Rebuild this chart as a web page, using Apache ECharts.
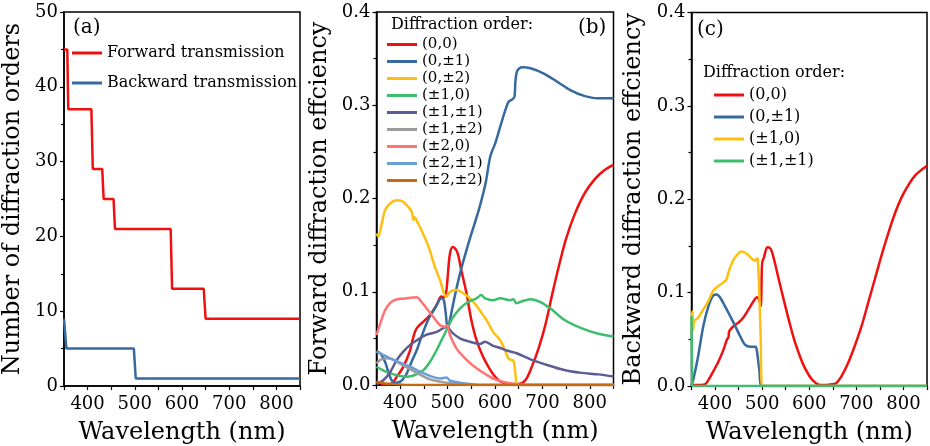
<!DOCTYPE html>
<html>
<head>
<meta charset="utf-8">
<script src="https://cdn.jsdelivr.net/npm/echarts@6/dist/echarts.min.js"></script>
<style>html,body{margin:0;padding:0;background:#fff;}#chart{width:930px;height:446px;}</style>
</head>
<body>
<div id="chart"></div>
<script>
// ---------- data ----------
const xTicks = [400, 500, 600, 700, 800];
// panel (a): number of diffraction orders
const aForward = [[350,45],[357,45],[359,37],[408,37],[411,29],[431,29],[434,25],[455,25],[458,21],[576,21],[579,13],[646,13],[650,9],[850,9]];
const aBackward = [[350,9],[352,9],[355,5],[498,5],[502,1],[850,1]];

// panel (b): forward diffraction efficiency
const b00 = [[350,0.004],[358,0.002],[365,0.0005],[380,0.001],[393,0.009],[407,0.02],[421,0.0375],[428,0.052],[435,0.061],[449,0.068],[463,0.075],[477,0.086],[487,0.095],[492,0.094],[497,0.1],[500,0.115],[505,0.141],[511,0.148],[520,0.143],[529,0.123],[540,0.098],[550,0.07],[561,0.048],[575,0.03],[589,0.017],[600,0.009],[611,0.004],[632,0.001],[650,0.001],[664,0.005],[678,0.02],[693,0.041],[707,0.066],[721,0.098],[736,0.13],[750,0.157],[768,0.183],[789,0.2055],[811,0.221],[830,0.23],[850,0.236]];
const b01 = [[350,0.036],[358,0.034],[368,0.025],[375,0.014],[382,0.005],[389,0.0025],[400,0.0036],[410,0.009],[417,0.016],[424,0.025],[435,0.0375],[445,0.052],[459,0.07],[473,0.082],[487,0.093],[492,0.091],[496,0.077],[500,0.061],[505,0.07],[515,0.095],[529,0.125],[547,0.157],[566,0.188],[580,0.216],[590,0.245],[601,0.26],[611,0.277],[622,0.295],[629,0.304],[636,0.306],[641,0.309],[643,0.325],[647,0.337],[657,0.3407],[675,0.3396],[703,0.334],[732,0.325],[760,0.316],[788,0.31],[816,0.3074],[850,0.3074]];
const b02 = [[350,0.1625],[354,0.159],[361,0.173],[368,0.1875],[379,0.195],[393,0.198],[403,0.1975],[414,0.193],[424,0.186],[428,0.177],[431,0.18],[435,0.176],[445,0.166],[460,0.148],[473,0.127],[484,0.1125],[494,0.096],[498,0.095],[505,0.1],[519,0.102],[540,0.096],[556,0.088],[568,0.08],[582,0.0697],[596,0.057],[611,0.048],[621,0.0375],[628,0.0286],[633,0.027],[639,0.026],[643,0.0125],[648,0],[850,0]];
const b10 = [[350,0.0196],[365,0.0154],[379,0.0125],[400,0.0096],[414,0.0089],[431,0.0107],[449,0.016],[463,0.025],[477,0.0375],[491,0.052],[501,0.0625],[512,0.073],[526,0.082],[543,0.089],[561,0.093],[571,0.0964],[579,0.093],[596,0.091],[611,0.093],[632,0.091],[639,0.092],[645,0.0876],[653,0.089],[675,0.092],[696,0.089],[717,0.082],[746,0.07],[782,0.061],[818,0.055],[850,0.052]];
const b11 = [[350,0.001],[365,0.0054],[379,0.014],[393,0.027],[407,0.036],[421,0.043],[435,0.048],[456,0.054],[477,0.057],[491,0.061],[499,0.0625],[508,0.057],[526,0.05],[547,0.0464],[568,0.044],[579,0.0464],[596,0.042],[610,0.04],[625,0.037],[646,0.034],[675,0.0275],[710,0.0214],[746,0.016],[782,0.013],[818,0.0114],[850,0.009]];
const b12 = [[350,0.023],[358,0.027],[372,0.0286],[386,0.027],[400,0.023],[421,0.017],[442,0.011],[463,0.006],[484,0.0036],[505,0.0018],[533,0.0007],[561,0],[850,0]];
const b20 = [[350,0.0536],[358,0.066],[368,0.08],[379,0.088],[393,0.092],[407,0.0925],[421,0.0936],[435,0.094],[445,0.089],[456,0.082],[470,0.073],[484,0.064],[494,0.0625],[499,0.064],[505,0.0536],[519,0.039],[540,0.027],[561,0.018],[582,0.011],[600,0.006],[620,0.003],[640,0.001],[650,0],[850,0]];
const b21 = [[350,0.0357],[365,0.032],[379,0.0286],[400,0.024],[421,0.0196],[442,0.0143],[463,0.0096],[484,0.007],[498,0.008],[505,0.0046],[526,0.0025],[547,0.001],[568,0],[850,0]];
const b22 = [[350,0.0036],[365,0.0018],[393,0.0007],[420,0],[850,0]];

// panel (c): backward diffraction efficiency
const c00 = [[350,0.001],[357,0.001],[379,0.002],[386,0.0065],[396,0.0155],[407,0.026],[418,0.039],[425,0.0496],[428.5,0.0525],[430,0.0586],[439,0.064],[450,0.068],[461,0.074],[471,0.082],[482,0.091],[489,0.095],[493,0.093],[497,0.0856],[500,0.132],[504,0.138],[511,0.1486],[518,0.147],[525,0.136],[536,0.1126],[546,0.092],[557,0.07],[568,0.0496],[579,0.0335],[589,0.021],[600,0.011],[607,0.0064],[618,0.0018],[632,0.001],[646,0.0018],[657,0.003],[668,0.01],[682,0.024],[696,0.042],[711,0.064],[725,0.089],[739,0.114],[753,0.139],[768,0.164],[782,0.185],[796,0.202],[811,0.2157],[825,0.2256],[839,0.2318],[850,0.236]];
const c01 = [[350,0.001],[353.6,0.0065],[364,0.0317],[375,0.064],[386,0.0856],[396,0.097],[403.6,0.098],[411,0.0946],[421,0.0856],[432,0.075],[443,0.064],[453.6,0.053],[464,0.044],[475,0.042],[486,0.042],[489,0.037],[494,0.017],[500,0],[850,0]];
const c10 = [[350,0.073],[352,0.08],[353.5,0.06],[356,0.07],[364,0.073],[375,0.082],[386,0.091],[396,0.102],[407,0.107],[418,0.111],[425,0.115],[428.5,0.1216],[436,0.132],[446,0.14],[457,0.144],[468,0.1414],[478.6,0.136],[486,0.1342],[489,0.1367],[491,0.134],[494,0.1],[497,0.05],[500,0],[850,0]];
const c11 = [[350,0.075],[351.5,0],[850,0]];

// ---------- style ----------
const FONT = '"DejaVu Serif", "Liberation Serif", serif';
const C = {
  red:'#f01010', blue:'#35699f', yellow:'#fcc012', green:'#3cbe6c', purple:'#5c5c95',
  gray:'#9c9c9c', pink:'#ff7373', lblue:'#6a9fd5', orange:'#c8680f'
};

function xAxis(gi){
  return {
    type:'value', gridIndex:gi, min:350, max:850, interval:50,
    name:'Wavelength (nm)', nameLocation:'middle', nameGap:35,
    nameTextStyle:{fontFamily:FONT, fontSize:24, color:'#000'},
    axisLine:{show:true, lineStyle:{color:'#000', width:1.5}},
    axisTick:{show:true, length:4, lineStyle:{color:'#000', width:1.2}},
    axisLabel:{fontFamily:FONT, fontSize:18, color:'#000', margin:9,
      formatter:function(v){ return xTicks.indexOf(v) >= 0 ? String(v) : ''; }},
    splitLine:{show:false}
  };
}
function yAxis(gi, name, max, interval, gap, dec){
  return {
    type:'value', gridIndex:gi, min:0, max:max, interval:interval,
    name:name, nameLocation:'middle', nameGap:gap,
    nameTextStyle:{fontFamily:FONT, fontSize:24, color:'#000'},
    axisLine:{show:true, lineStyle:{color:'#000', width:1.5}},
    axisTick:{show:true, length:4, lineStyle:{color:'#000', width:1.2}},
    minorTick:{show:true, splitNumber:2, length:3, lineStyle:{color:'#000', width:1.2}},
    axisLabel:{fontFamily:FONT, fontSize:18, color:'#000', margin:6,
      formatter:function(v){ return dec ? v.toFixed(1) : String(v); }},
    splitLine:{show:false}
  };
}
function line(name, data, color, gi, smooth){
  return {
    type:'line', name:name, data:data, xAxisIndex:gi, yAxisIndex:gi,
    showSymbol:false, symbol:'none', smooth:smooth, animation:false,
    lineStyle:{color:color, width:2.5}, itemStyle:{color:color}
  };
}
function legend(left, top, gap, lh, fs, items){
  return {
    orient:'vertical', left:left, top:top, itemWidth:30, itemHeight:3, itemGap:gap,
    icon:'rect', selectedMode:false, padding:0,
    textStyle:{fontFamily:FONT, fontSize:fs, lineHeight:lh, color:'#000'},
    data:items.map(function(it){ return {name:it[0], itemStyle:{color:it[1]}}; })
  };
}
function txt(x, y, s, fs){
  return {type:'text', x:x, y:y, silent:true,
    style:{text:s, font:fs+'px '+FONT, fill:'#000', verticalAlign:'middle', align:'left'}};
}
function grid(l, t, w, h){
  return {left:l, top:t, width:w, height:h, show:true, borderColor:'#000', borderWidth:1.5,
    backgroundColor:'transparent', containLabel:false, outerBoundsMode:'none'};
}

const option = {
  animation:false,
  backgroundColor:'#fff',
  grid:[
    grid(64, 12, 236, 374),
    grid(376.5, 12, 237, 373),
    grid(691.5, 12.5, 235.5, 373.5)
  ],
  xAxis:[xAxis(0), xAxis(1), xAxis(2)],
  yAxis:[
    yAxis(0, 'Number of diffraction orders', 50, 10, 39, false),
    yAxis(1, 'Forward diffraction effciency', 0.4, 0.1, 45, true),
    yAxis(2, 'Backward diffraction effciency', 0.4, 0.1, 46, true)
  ],
  legend:[
    legend(72, 44, 12, 18, 16, [['Forward transmission', C.red], ['Backward transmission', C.blue]]),
    legend(387, 36, 0, 17, 15, [['(0,0)',C.red],['(0,±1)',C.blue],['(0,±2)',C.yellow],['(±1,0)',C.green],['(±1,±1)',C.purple],['(±1,±2)',C.gray],['(±2,0)',C.pink],['(±2,±1)',C.lblue],['(±2,±2)',C.orange]]),
    legend(714, 86, 4, 18, 16, [['(0,0)',C.red],['(0,±1)',C.blue],['(±1,0)',C.yellow],['(±1,±1)',C.green]])
  ],
  graphic:[
    txt(73, 28, '(a)', 20),
    txt(578, 28, '(b)', 20),
    txt(697, 30, '(c)', 20),
    txt(391, 25, 'Diffraction order:', 16),
    txt(703, 73, 'Diffraction order:', 16)
  ],
  series:[
    line('Forward transmission', aForward, C.red, 0, false),
    line('Backward transmission', aBackward, C.blue, 0, false),
    line('(0,0)', b00, C.red, 1, 0.35),
    line('(0,±1)', b01, C.blue, 1, 0.3),
    line('(0,±2)', b02, C.yellow, 1, 0.25),
    line('(±1,0)', b10, C.green, 1, 0.3),
    line('(±1,±1)', b11, C.purple, 1, 0.3),
    line('(±1,±2)', b12, C.gray, 1, 0.3),
    line('(±2,0)', b20, C.pink, 1, 0.3),
    line('(±2,±1)', b21, C.lblue, 1, 0.3),
    line('(±2,±2)', b22, C.orange, 1, 0.3),
    line('(0,0)', c00, C.red, 2, 0.3),
    line('(0,±1)', c01, C.blue, 2, 0.3),
    line('(±1,0)', c10, C.yellow, 2, 0.25),
    line('(±1,±1)', c11, C.green, 2, false)
  ]
};
const chart = echarts.init(document.getElementById('chart'), null, {renderer:'canvas'});
chart.setOption(option);
</script>
</body>
</html>
